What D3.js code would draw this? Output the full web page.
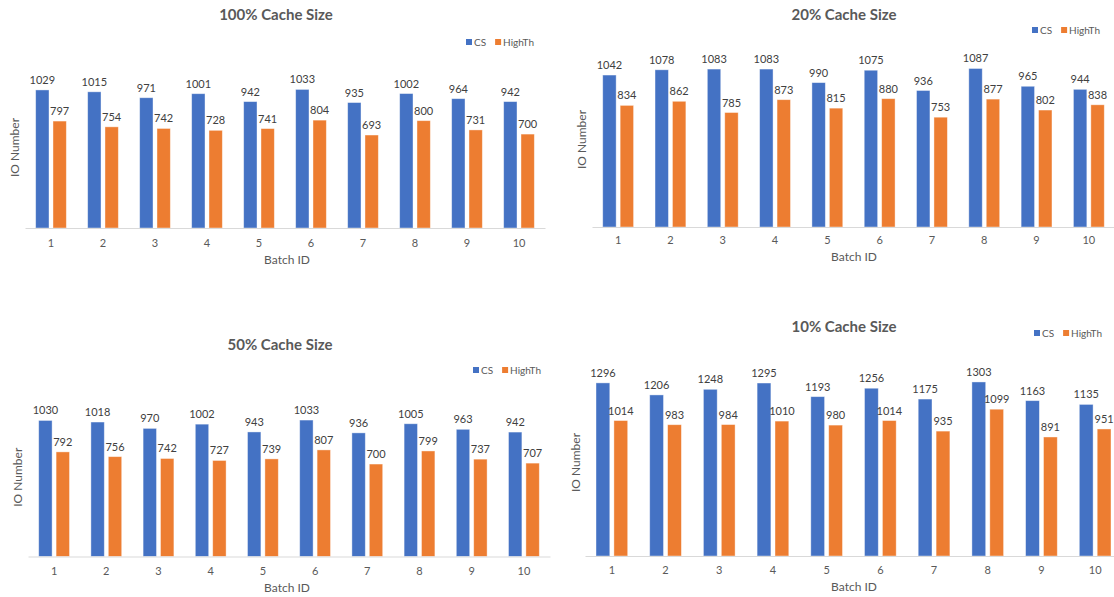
<!DOCTYPE html>
<html>
<head>
<meta charset="utf-8">
<script src="https://cdn.jsdelivr.net/npm/d3@7"></script>
<style>
  html, body { margin: 0; padding: 0; background: #fff; overflow: hidden; }
  svg { display: block; font-family: Lato, "Open Sans", "Liberation Sans", sans-serif; }
</style>
</head>
<body>
<svg id="chart" width="1114" height="597"></svg>
<script>
// ---- data ----
const categories = ["1", "2", "3", "4", "5", "6", "7", "8", "9", "10"];
const seriesNames = ["CS", "HighTh"];
const titles = ["100% Cache Size", "20% Cache Size", "50% Cache Size", "10% Cache Size"];

const cs100 = [1029, 1015, 971, 1001, 942, 1033, 935, 1002, 964, 942];
const highTh100 = [797, 754, 742, 728, 741, 804, 693, 800, 731, 700];

const cs20 = [1042, 1078, 1083, 1083, 990, 1075, 936, 1087, 965, 944];
const highTh20 = [834, 862, 785, 873, 815, 880, 753, 877, 802, 838];

const cs50 = [1030, 1018, 970, 1002, 943, 1033, 936, 1005, 963, 942];
const highTh50 = [792, 756, 742, 727, 739, 807, 700, 799, 737, 707];

const cs10 = [1296, 1206, 1248, 1295, 1193, 1256, 1175, 1303, 1163, 1135];
const highTh10 = [1014, 983, 984, 1010, 980, 1014, 935, 1099, 891, 951];

const yMaxes = [1200, 1200, 1200, 1400];

// ---- layout (positions only) ----
const layouts = [
  { x0: 25, x1: 545, yBase: 228, yTop: 67,  titleX: 276, titleY: 20,  legX: 466, legY: 43,
    yLabX: 19, xLabX: 287, xLabY: 264, tickY: 247 },
  { x0: 592, x1: 1115, yBase: 227, yTop: 52, titleX: 844, titleY: 20, legX: 1032, legY: 31,
    yLabX: 586, xLabX: 854, xLabY: 261, tickY: 244 },
  { x0: 28, x1: 550, yBase: 556.5, yTop: 398, titleX: 280, titleY: 350, legX: 473, legY: 371,
    yLabX: 22, xLabX: 287, xLabY: 592, tickY: 575 },
  { x0: 585, x1: 1122, yBase: 556, yTop: 369, titleX: 844, titleY: 332, legX: 1034, legY: 334,
    yLabX: 580, xLabX: 854, xLabY: 591, tickY: 574 }
];

const colors = { CS: "#4472C4", HighTh: "#ED7D31" };
const panelsData = [[cs100, highTh100], [cs20, highTh20], [cs50, highTh50], [cs10, highTh10]];

const svg = d3.select("#chart");

panelsData.forEach((pd, pi) => {
  const L = layouts[pi];
  const g = svg.append("g");

  const x = d3.scaleBand().domain(categories).range([L.x0, L.x1]).paddingInner(0).paddingOuter(0);
  const bw = x.bandwidth();
  const xs = d3.scaleBand().domain(seriesNames).range([bw * 0.205, bw * 0.795]).paddingInner(0.23);
  const y = d3.scaleLinear().domain([0, yMaxes[pi]]).range([L.yBase, L.yTop]);

  // title
  g.append("text").attr("x", L.titleX).attr("y", L.titleY)
    .attr("text-anchor", "middle").attr("font-size", 15).attr("font-weight", "bold")
    .attr("fill", "#595959").text(titles[pi]);

  // legend
  let lx = L.legX;
  seriesNames.forEach((s) => {
    g.append("rect").attr("x", lx).attr("y", L.legY - 4).attr("width", 6).attr("height", 6)
      .attr("fill", colors[s]);
    const t = g.append("text").attr("x", lx + 8).attr("y", L.legY + 2.5)
      .attr("font-size", 10).attr("fill", "#595959").text(s);
    lx += 8 + t.node().getComputedTextLength() + 9;
  });

  // bars
  const groups = g.selectAll(".grp").data(categories).join("g")
    .attr("transform", d => `translate(${x(d)},0)`);
  groups.each(function (c, ci) {
    const gg = d3.select(this);
    seriesNames.forEach((s, si) => {
      const v = pd[si][ci];
      gg.append("rect")
        .attr("x", xs(s)).attr("width", xs.bandwidth())
        .attr("y", y(v)).attr("height", L.yBase - y(v))
        .attr("fill", colors[s]).attr("stroke", "#ffffff").attr("stroke-opacity", 0.5)
        .attr("stroke-width", 0.8);
      gg.append("text")
        .attr("x", xs(s) + xs.bandwidth() / 2).attr("y", y(v) - 6)
        .attr("text-anchor", "middle").attr("font-size", 11).attr("fill", "#404040")
        .text(v);
    });
  });

  // x axis
  const axis = d3.axisBottom(x).tickSize(0).tickPadding(0);
  const ag = g.append("g").attr("transform", `translate(0,${L.yBase})`).call(axis);
  ag.select(".domain").attr("stroke", "#D9D9D9").attr("stroke-width", 1.2);
  ag.selectAll(".tick text").attr("font-size", 11).attr("fill", "#595959")
    .attr("font-family", "Lato, sans-serif").attr("dy", null).attr("y", L.tickY - L.yBase);

  // axis titles
  g.append("text").attr("x", L.xLabX).attr("y", L.xLabY)
    .attr("text-anchor", "middle").attr("font-size", 12).attr("fill", "#595959").text("Batch ID");
  g.append("text").attr("transform", `translate(${L.yLabX},${(L.yBase + L.yTop) / 2}) rotate(-90)`)
    .attr("text-anchor", "middle").attr("font-size", 12).attr("fill", "#595959").text("IO Number");
});
</script>
</body>
</html>
